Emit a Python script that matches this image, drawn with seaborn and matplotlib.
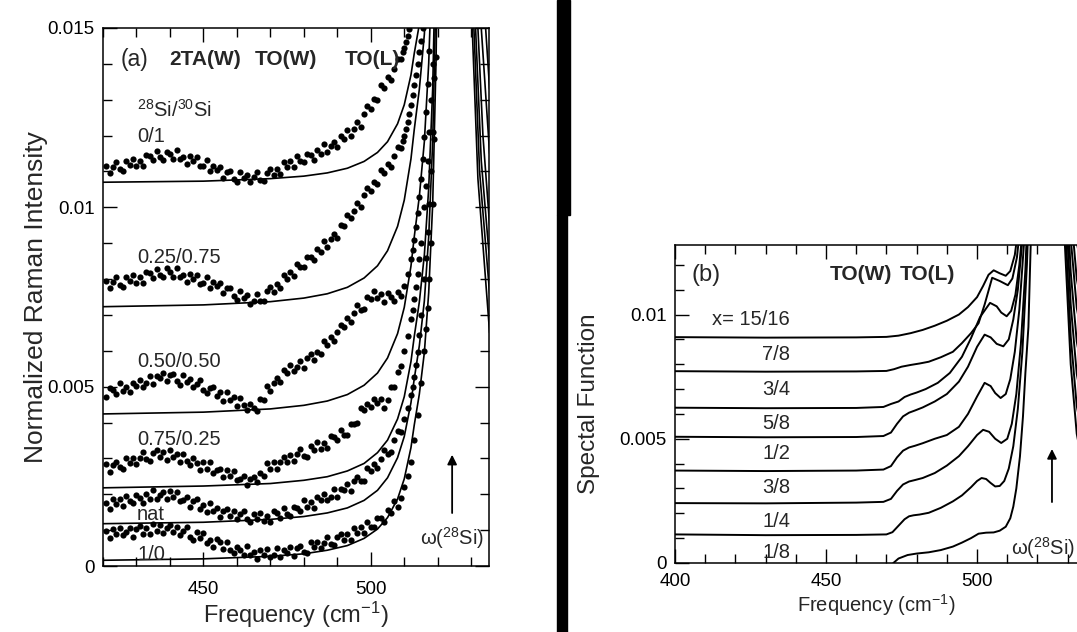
import numpy as np
import seaborn as sns
import matplotlib
matplotlib.use("Agg")
import matplotlib.pyplot as plt
from matplotlib.ticker import MultipleLocator, FuncFormatter
from matplotlib.patches import Rectangle

# ---- Données panneau (a) : points expérimentaux (unités 1e-5) ----
freq_dots = list(range(421, 510))

dots_0_1 = [1114, 1095, 1113, 1127, 1106, 1102, 1129, 1117, 1136, 1115, 1130, 1115, 1146, 1143, 1131, 1157, 1139, 1132, 1154, 1148,
            1134, 1159, 1135, 1141, 1121, 1143, 1128, 1140, 1115, 1116, 1131, 1100, 1115, 1103, 1112, 1083, 1099, 1101, 1080, 1072,
            1099, 1081, 1091, 1071, 1084, 1099, 1076, 1074, 1097, 1106, 1090, 1108, 1093, 1126, 1112, 1129, 1112, 1143, 1130, 1126,
            1150, 1146, 1132, 1160, 1149, 1176, 1154, 1171, 1182, 1167, 1199, 1190, 1215, 1200, 1218, 1238, 1225, 1261, 1283, 1275,
            1302, 1300, 1340, 1333, 1362, 1354, 1387, 1414, 1413]
tail_x_0_1 = [509.5, 510, 510.5, 511, 511.5, 512]
tail_y_0_1 = [1432, 1445, 1460, 1478, 1496, 1515]

dots_25_75 = [794, 775, 792, 805, 784, 779, 806, 794, 811, 790, 805, 789, 820, 816, 804, 829, 812, 807, 830, 821,
              806, 831, 806, 812, 791, 813, 799, 811, 787, 789, 805, 775, 791, 780, 790, 760, 775, 776, 754, 743,
              768, 747, 755, 731, 740, 759, 740, 739, 766, 778, 765, 787, 774, 811, 800, 820, 808, 842, 833, 833,
              861, 861, 852, 884, 876, 907, 889, 911, 926, 915, 952, 949, 979, 970, 989, 1012, 1001, 1035, 1055, 1045,
              1070, 1066, 1104, 1095, 1120, 1113, 1144, 1168, 1165]
tail_x_25_75 = [509.5, 510, 510.5, 511, 511.5, 512, 512.5, 513, 513.5, 514, 514.5, 515, 515.5, 516]
tail_y_25_75 = [1185, 1200, 1218, 1238, 1260, 1285, 1312, 1340, 1370, 1400, 1432, 1465, 1500, 1540]

dots_50_50 = [472, 495, 490, 480, 509, 489, 500, 484, 511, 501, 519, 500, 509, 531, 507, 529, 524, 539, 516, 533,
              535, 515, 505, 532, 512, 521, 498, 507, 518, 491, 481, 497, 498, 474, 484, 460, 484, 462, 470, 446,
              469, 448, 436, 452, 440, 432, 465, 464, 501, 489, 510, 525, 513, 547, 537, 560, 544, 556, 572, 553,
              580, 592, 575, 598, 591, 627, 615, 638, 626, 653, 672, 665, 691, 680, 706, 727, 714, 717, 750, 745,
              766, 748, 757, 736, 760, 749, 738, 764, 753]
tail_x_50_50 = [510, 511, 512, 512.5, 513, 513.5, 514, 514.5, 515, 515.5, 516, 516.5, 517, 517.5, 518]
tail_y_50_50 = [780, 815, 855, 880, 910, 945, 985, 1030, 1080, 1135, 1195, 1265, 1345, 1435, 1535]

dots_75_25 = [285, 261, 283, 290, 275, 270, 302, 287, 302, 284, 300, 317, 297, 294, 316, 323, 305, 318, 296, 324,
              303, 313, 289, 313, 293, 283, 300, 288, 268, 289, 270, 289, 258, 267, 270, 247, 269, 250, 265, 240,
              244, 251, 225, 243, 247, 235, 259, 252, 287, 270, 289, 271, 291, 304, 290, 309, 292, 312, 327, 308,
              305, 334, 324, 345, 326, 343, 329, 362, 361, 351, 379, 365, 365, 395, 396, 399, 441, 434, 452, 443,
              467, 454, 466, 441, 464, 500, 498, 542, 559]
tail_x_75_25 = [510, 511, 512, 512.5, 513, 513.5, 514, 514.5, 515, 516, 516.5, 517, 517.5, 518, 518.5, 519]
tail_y_75_25 = [600, 640, 688, 715, 745, 778, 815, 855, 900, 1000, 1060, 1130, 1210, 1300, 1400, 1520]

dots_nat = [176, 158, 188, 172, 186, 168, 196, 181, 175, 197, 191, 176, 201, 187, 211, 186, 199, 207, 186, 209,
            192, 207, 182, 185, 192, 165, 182, 186, 159, 170, 151, 175, 152, 163, 138, 152, 159, 139, 153, 130,
            145, 154, 130, 122, 146, 132, 148, 125, 139, 122, 152, 147, 135, 161, 144, 139, 164, 161, 152, 183,
            165, 178, 163, 192, 184, 202, 184, 192, 215, 192, 215, 211, 230, 210, 236, 247, 236, 236, 272, 264,
            285, 274, 298, 323, 311, 319, 351, 376, 375]
tail_x_nat = [510, 511, 512, 512.5, 513, 513.5, 514, 514.5, 515, 516, 516.5, 517, 517.5, 518, 518.5, 519, 519.5]
tail_y_nat = [410, 440, 478, 500, 528, 560, 598, 645, 700, 800, 860, 930, 1010, 1100, 1210, 1360, 1540]

dots_1_0 = [97, 78, 103, 88, 107, 86, 94, 105, 82, 104, 112, 90, 105, 90, 118, 98, 113, 92, 107, 114,
            95, 109, 86, 99, 108, 82, 73, 96, 79, 92, 65, 73, 52, 76, 66, 48, 68, 46, 35, 53,
            44, 30, 56, 32, 39, 20, 45, 32, 47, 24, 30, 50, 24, 44, 37, 52, 28, 49, 56, 40,
            35, 67, 52, 67, 49, 65, 82, 62, 59, 81, 89, 72, 89, 73, 105, 91, 108, 92, 123, 110,
            109, 135, 133, 124, 157, 149, 181, 164, 191]
tail_x_1_0 = [510, 511, 512, 513, 514, 515, 516, 516.5, 517, 517.5, 518, 518.5, 519, 519.5, 520]
tail_y_1_0 = [220, 250, 290, 350, 420, 510, 600, 660, 720, 800, 900, 1010, 1190, 1420, 1650]

# ---- Ajustements (traits pleins) panneau (a) ----
fit_x_left = [420, 450, 470, 480, 487, 493, 498, 502, 505, 508, 510, 512, 513, 514.5, 516, 517.3, 518.5, 519.5, 520.5]
fit_0_1 = [1070, 1073, 1080, 1087, 1096, 1109, 1128, 1153, 1183, 1233, 1286, 1369, 1430, 1510, 1622, 1780, 2018, 2400, 3066]
fit_25_75 = [723, 728, 737, 747, 759, 777, 803, 837, 879, 947, 1020, 1135, 1218, 1329, 1482, 1700, 2028, 2551, 3468]
fit_50_50 = [424, 429, 438, 448, 460, 478, 504, 538, 580, 648, 721, 836, 919, 1030, 1183, 1401, 1729, 2252, 3169]
fit_75_25 = [218, 223, 230, 239, 249, 265, 286, 316, 351, 410, 472, 570, 641, 736, 867, 1053, 1333, 1781, 2564]
fit_nat = [118, 122, 130, 138, 148, 162, 183, 211, 246, 302, 361, 455, 523, 614, 739, 918, 1185, 1614, 2364]
fit_1_0 = [16, 20, 27, 34, 44, 57, 77, 103, 135, 187, 243, 330, 394, 479, 595, 762, 1012, 1412, 2112]

# flanc droit du pic principal
right_x_0_1 = [523, 528, 532.5, 534.3, 535.5]
right_y_0_1 = [9000, 9000, 2200, 1500, 1330]
right_x_25_75 = [523, 528, 531.5, 533, 535.5]
right_y_25_75 = [9000, 9000, 2000, 1500, 1150]
right_x_50_50 = [523, 528, 530.5, 532, 533.5, 535.5]
right_y_50_50 = [9000, 9000, 2100, 1500, 1200, 950]
right_x_75_25 = [523, 527.5, 530, 531.3, 533, 535.5]
right_y_75_25 = [9000, 9000, 2100, 1500, 1130, 850]
right_x_nat = [523, 527, 529.5, 530.8, 532.5, 535.5]
right_y_nat = [9000, 9000, 2100, 1500, 1100, 760]
right_x_1_0 = [523, 527, 529, 530.3, 532, 535.5]
right_y_1_0 = [9000, 9000, 2100, 1500, 1080, 650]

# ---- Panneau (b) : fonction spectrale (unités 1e-5) ----
b_x_1_8 = [465, 470, 472.3, 474, 477, 480, 484, 488, 492, 495, 498, 500.5, 503, 505.5, 507.5, 509.5, 511, 512, 513, 514.2,
           515.2, 516, 517, 517.8, 519, 521, 526, 529, 531, 533, 535.5]
b_y_1_8 = [-150, -40, 0, 18, 32, 38, 43, 52, 66, 82, 100, 118, 122, 123, 130, 146, 180, 227, 300, 429,
           590, 765, 950, 1300, 2200, 5000, 5000, 1300, 800, 520, 360]
b_x_1_4 = [400, 430, 460, 470, 472, 474, 476, 477.5, 479, 481, 484, 488, 492, 495, 498, 500, 501.5, 503, 504.5, 506,
           507.5, 509, 510.5, 512, 513.5, 515, 516.5, 518, 520, 526, 529, 531, 533, 535.5]
b_y_1_4 = [115, 112, 113, 115, 124, 150, 176, 188, 192, 195, 202, 222, 248, 272, 305, 330, 342, 338, 322, 308,
           310, 330, 380, 470, 620, 850, 1200, 1700, 5000, 5000, 1412, 912, 632, 472]
b_x_3_8 = [400, 430, 460, 469, 471.5, 473.5, 475.5, 477.5, 479.5, 482, 486, 490, 494, 497, 500, 502, 504, 506, 508, 510,
           511.5, 513, 514.5, 516, 517.5, 519, 521, 526, 529, 531, 533, 535.5]
b_y_3_8 = [241, 240, 243, 246, 258, 290, 316, 328, 334, 342, 362, 392, 430, 470, 515, 536, 528, 500, 483, 500,
           560, 680, 880, 1180, 1650, 2500, 5000, 5000, 1541, 1041, 761, 601]
b_x_1_2 = [400, 430, 460, 469, 471.5, 473.5, 475.5, 477.5, 479.5, 482, 486, 490, 494, 497, 500, 502.5, 504.5, 506, 507.8, 509.5,
           511, 512.5, 514, 515.5, 517, 519, 521, 526, 529, 531, 533, 535.5]
b_y_1_2 = [372, 370, 372, 376, 390, 425, 452, 465, 472, 482, 500, 515, 548, 600, 670, 725, 712, 684, 664, 680,
           740, 850, 1020, 1280, 1650, 2500, 5000, 5000, 1671, 1171, 891, 731]
b_x_5_8 = [400, 430, 460, 469, 471.5, 473.5, 475.5, 477.5, 479.5, 482, 486, 490, 494, 497, 500, 502.5, 504.5, 506.5, 508.7, 510.5,
           512, 513.5, 515, 516.5, 518, 521, 526, 529, 531, 533, 535.5]
b_y_5_8 = [508, 506, 507, 511, 525, 560, 590, 605, 614, 626, 650, 680, 730, 790, 870, 919, 908, 882, 872, 900,
           980, 1100, 1300, 1600, 2100, 5000, 5000, 1807, 1307, 1027, 867]
b_x_3_4 = [400, 430, 460, 469, 471.5, 474, 476, 478, 480, 483, 487, 491, 495, 498, 501, 504.3, 506.5, 508, 509.8, 511.3,
           512.7, 514, 515.5, 517, 521, 526, 529, 531, 533, 535.5]
b_y_3_4 = [625, 623, 624, 628, 640, 650, 668, 678, 686, 700, 725, 765, 830, 905, 990, 1047, 1033, 1008, 993, 1015,
           1080, 1200, 1400, 1800, 5000, 5000, 1924, 1424, 1144, 984]
b_x_7_8 = [400, 430, 460, 470, 472.5, 475, 478, 481, 484, 488, 492, 495, 498, 500.5, 502.5, 505, 507.5, 510.2, 511.7, 513.2,
           514.7, 516.2, 521, 526, 529, 531, 533, 535.5]
b_y_7_8 = [772, 770, 771, 773, 780, 790, 797, 803, 810, 828, 850, 885, 925, 965, 1040, 1148, 1135, 1118, 1145, 1230,
           1400, 1700, 5000, 5000, 2071, 1571, 1291, 1131]
b_x_15_16 = [400, 430, 460, 470, 474, 478, 482, 486, 490, 494, 497, 500, 502, 503.8, 505.5, 507.5, 509.5, 511, 512.5, 514,
             515.5, 521, 526, 529, 531, 533, 535.5]
b_y_15_16 = [909, 907, 908, 910, 915, 925, 938, 955, 975, 1000, 1030, 1070, 1115, 1160, 1178, 1166, 1156, 1175, 1240, 1380,
             1650, 5000, 5000, 2208, 1708, 1428, 1268]

labels_a = ['0/1', '0.25/0.75', '0.50/0.50', '0.75/0.25', 'nat', '1/0']
label_y_a = [0.01198, 0.00859, 0.00569, 0.00354, 0.00145, 0.00033]
labels_b = ['x= 15/16', '7/8', '3/4', '5/8', '1/2', '3/8', '1/4', '1/8']
label_y_b = [0.0098, 0.00839, 0.00698, 0.00563, 0.0044, 0.00305, 0.00167, 0.00042]

U = 1e-5

sns.set_style("ticks")
plt.rcParams['font.family'] = ['Liberation Sans', 'DejaVu Sans']
plt.rcParams['mathtext.fontset'] = 'custom'
plt.rcParams['mathtext.rm'] = 'Liberation Sans'
plt.rcParams['mathtext.it'] = 'Liberation Sans:italic'
plt.rcParams['mathtext.bf'] = 'Liberation Sans:bold'
plt.rcParams['mathtext.default'] = 'regular'

fig = plt.figure(figsize=(10.77, 6.32), dpi=100)
ax_a = fig.add_axes([0.0956, 0.1044, 0.3584, 0.8513])
ax_b = fig.add_axes([0.6267, 0.1092, 0.3927, 0.5032])

# --- panneau (a) ---
dot_sets = [(dots_0_1, tail_x_0_1, tail_y_0_1), (dots_25_75, tail_x_25_75, tail_y_25_75),
            (dots_50_50, tail_x_50_50, tail_y_50_50), (dots_75_25, tail_x_75_25, tail_y_75_25),
            (dots_nat, tail_x_nat, tail_y_nat), (dots_1_0, tail_x_1_0, tail_y_1_0)]
for d, tx, ty in dot_sets:
    xs = freq_dots + tx
    ys = np.array(d + ty) * U
    sns.scatterplot(x=xs, y=ys, ax=ax_a, color='black', s=20, linewidth=0)

fit_sets = [(fit_0_1, right_x_0_1, right_y_0_1), (fit_25_75, right_x_25_75, right_y_25_75),
            (fit_50_50, right_x_50_50, right_y_50_50), (fit_75_25, right_x_75_25, right_y_75_25),
            (fit_nat, right_x_nat, right_y_nat), (fit_1_0, right_x_1_0, right_y_1_0)]
for f, rx, ry in fit_sets:
    xs = fit_x_left + rx
    ys = np.array(f + ry) * U
    sns.lineplot(x=xs, y=ys, ax=ax_a, color='black', linewidth=1.2, sort=False, estimator=None)

ax_a.set_xlim(420, 535.3)
ax_a.set_ylim(0, 0.015)
ax_a.xaxis.set_major_locator(MultipleLocator(50))
ax_a.xaxis.set_minor_locator(MultipleLocator(10))
ax_a.yaxis.set_major_locator(MultipleLocator(0.005))
ax_a.yaxis.set_minor_locator(MultipleLocator(0.001))
ax_a.yaxis.set_major_formatter(FuncFormatter(lambda v, p: f"{v:g}"))
ax_a.set_xlabel('Frequency (cm$^{-1}$)', fontsize=17, labelpad=1)
ax_a.set_ylabel('Normalized Raman Intensity', fontsize=19)
ax_a.yaxis.set_label_coords(-0.1425, 0.5)

ax_a.text(425.4, 0.01413, '(a)', fontsize=16.5, va='center')
ax_a.text(439.8, 0.01413, '2TA(W)', fontsize=15, fontweight='bold', va='center')
ax_a.text(465.3, 0.01413, 'TO(W)', fontsize=15, fontweight='bold', va='center')
ax_a.text(492.2, 0.01413, 'TO(L)', fontsize=15, fontweight='bold', va='center')
ax_a.text(430.2, 0.01273, '$^{28}$Si/$^{30}$Si', fontsize=14.5, va='center')
for lab, yy in zip(labels_a, label_y_a):
    ax_a.text(430.2, yy, lab, fontsize=14.5, va='center')
ax_a.annotate('', xy=(524.3, 0.00318), xytext=(524.3, 0.0014),
              arrowprops=dict(arrowstyle='-|>', color='black', lw=1.3, mutation_scale=14))
ax_a.text(524.3, 0.00078, '\u03c9($^{28}$Si)', fontsize=14.5, ha='center', va='center')

# --- panneau (b) ---
b_sets = [(b_x_1_8, b_y_1_8), (b_x_1_4, b_y_1_4), (b_x_3_8, b_y_3_8), (b_x_1_2, b_y_1_2),
          (b_x_5_8, b_y_5_8), (b_x_3_4, b_y_3_4), (b_x_7_8, b_y_7_8), (b_x_15_16, b_y_15_16)]
for bx, by in b_sets:
    sns.lineplot(x=bx, y=np.array(by) * U, ax=ax_b, color='black', linewidth=1.4, sort=False, estimator=None)

ax_b.set_xlim(400, 540)
ax_b.set_ylim(0, 0.0128)
ax_b.xaxis.set_major_locator(MultipleLocator(50))
ax_b.xaxis.set_minor_locator(MultipleLocator(10))
ax_b.yaxis.set_major_locator(MultipleLocator(0.005))
ax_b.yaxis.set_minor_locator(MultipleLocator(0.001))
ax_b.yaxis.set_major_formatter(FuncFormatter(lambda v, p: f"{v:g}"))
ax_b.set_xlabel('Frequency (cm$^{-1}$)', fontsize=14.5)
ax_b.xaxis.set_label_coords(0.475, -0.0912)
ax_b.set_ylabel('Spectal Function', fontsize=17.5)
ax_b.yaxis.set_label_coords(-0.177, 0.5)

ax_b.text(405.5, 0.01161, '(b)', fontsize=17, va='center')
ax_b.text(451.3, 0.01161, 'TO(W)', fontsize=15, fontweight='bold', va='center')
ax_b.text(474.5, 0.01161, 'TO(L)', fontsize=15, fontweight='bold', va='center')
for lab, yy in zip(labels_b, label_y_b):
    ax_b.text(438.1, yy, lab, fontsize=14.5, ha='right', va='center')
ax_b.annotate('', xy=(524.8, 0.0047), xytext=(524.8, 0.00234),
              arrowprops=dict(arrowstyle='-|>', color='black', lw=1.3, mutation_scale=14))
ax_b.text(521.9, 0.0006, '\u03c9($^{28}$Si)', fontsize=14.5, ha='center', va='center')

for ax in (ax_a, ax_b):
    for s in ax.spines.values():
        s.set_linewidth(1.1)
        s.set_color('black')
    ax.tick_params(which='both', direction='in', top=True, right=True, width=1.0, colors='black')
    ax.tick_params(which='major', length=10, labelsize=13.5, pad=6)
    ax.tick_params(which='minor', length=6.5)
ax_a.tick_params(axis='x', which='major', pad=11)
ax_b.tick_params(axis='x', which='major', pad=7)

# barre noire entre les panneaux
fig.add_artist(Rectangle((557 / 1077, 1 - 215 / 632), 13 / 1077, 215 / 632, transform=fig.transFigure, color='black'))
fig.add_artist(Rectangle((557 / 1077, 0), 10 / 1077, 1 - 215 / 632, transform=fig.transFigure, color='black'))

fig.savefig('out.png', dpi=100)
